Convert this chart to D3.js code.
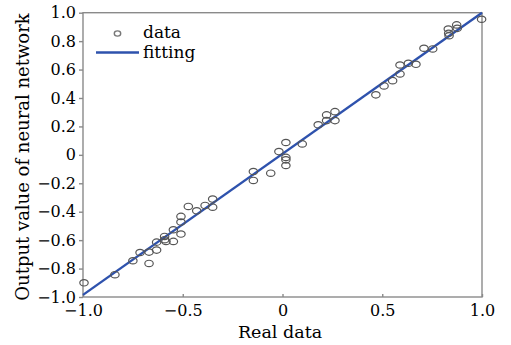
<!DOCTYPE html>
<html><head><meta charset="utf-8">
<script src="https://cdn.jsdelivr.net/npm/d3@7"></script>
<style>body{margin:0;background:#fff}svg{display:block}text{font-family:"DejaVu Serif",serif;fill:#000}</style>
</head><body>
<script>
const realX = [-0.995,-0.84,-0.75,-0.714,-0.669,-0.669,-0.631,-0.631,-0.591,-0.591,-0.584,-0.547,-0.547,-0.509,-0.509,-0.509,-0.472,-0.43,-0.388,-0.35,-0.35,
  -0.146,-0.146,-0.059,-0.018,0.017,0.017,0.017,0.017,0.099,0.179,0.221,0.221,0.263,0.263,
  0.468,0.509,0.552,0.589,0.589,0.631,0.669,0.709,0.753,0.831,0.835,0.833,0.873,0.876,0.998];
const outputY = [-0.90,-0.843,-0.745,-0.687,-0.764,-0.684,-0.67,-0.614,-0.597,-0.574,-0.609,-0.527,-0.609,-0.557,-0.473,-0.433,-0.363,-0.394,-0.356,-0.311,-0.368,
  -0.117,-0.18,-0.129,0.023,0.087,-0.018,-0.035,-0.075,0.077,0.211,0.281,0.241,0.304,0.241,
  0.422,0.485,0.522,0.569,0.632,0.644,0.637,0.75,0.745,0.885,0.838,0.855,0.914,0.89,0.954];
const fitX = [-1, 1];
const fitY = [-0.985, 1.0];
const xTicks = [-1, -0.5, 0, 0.5, 1];
const xTickLabels = ["\u22121.0", "\u22120.5", "0", "0.5", "1.0"];
const yTicks = [1, 0.8, 0.6, 0.4, 0.2, 0, -0.2, -0.4, -0.6, -0.8, -1];
const yTickLabels = ["1.0","0.8","0.6","0.4","0.2","0","\u22120.2","\u22120.4","\u22120.6","\u22120.8","\u22121.0"];
const legendLabels = ["data", "fitting"];
const xTitle = "Real data";
const yTitle = "Output value of neural network";

const W = 511, H = 345;
const L = 83, R = 482, T = 12.7, B = 297;
const svg = d3.select("body").append("svg").attr("width", W).attr("height", H);
const x = d3.scaleLinear().domain([-1, 1]).range([L, R]);
const y = d3.scaleLinear().domain([-1, 1]).range([B, T]);

const axisColor = "#8a8a8a";
svg.append("rect").attr("x", L).attr("y", T).attr("width", R - L).attr("height", B - T)
  .attr("fill", "none").attr("stroke", axisColor).attr("stroke-width", 1.4);

const xAxis = d3.axisBottom(x).tickValues(xTicks).tickSize(-3).tickPadding(5)
  .tickFormat((d, i) => xTickLabels[i]);
const gx = svg.append("g").attr("transform", `translate(0,${B})`).call(xAxis);
gx.select(".domain").remove();
gx.selectAll(".tick line").attr("stroke", axisColor).attr("stroke-width", 1.4);
gx.selectAll(".tick text").attr("font-size", 16).attr("fill", "#000").attr("dy", "0.9em")
  .attr("font-family", '"DejaVu Serif",serif');

const yAxis = d3.axisLeft(y).tickValues(yTicks).tickSize(4).tickPadding(3)
  .tickFormat((d, i) => yTickLabels[i]);
const gy = svg.append("g").attr("transform", `translate(${L},0)`).call(yAxis);
gy.select(".domain").remove();
gy.selectAll(".tick line").attr("stroke", axisColor).attr("stroke-width", 1.4);
gy.selectAll(".tick text").attr("font-size", 16).attr("fill", "#000")
  .attr("font-family", '"DejaVu Serif",serif');

const line = d3.line().x(d => x(d[0])).y(d => y(d[1]));
svg.append("path").datum(fitX.map((v, i) => [v, fitY[i]]))
  .attr("d", line).attr("fill", "none").attr("stroke", "#2e52ad").attr("stroke-width", 2.4);

svg.append("g").selectAll("ellipse").data(realX.map((v, i) => [v, outputY[i]])).join("ellipse")
  .attr("cx", d => x(d[0])).attr("cy", d => y(d[1])).attr("rx", 4.2).attr("ry", 3.2)
  .attr("fill", "none").attr("stroke", "#555").attr("stroke-width", 1.2);

svg.append("ellipse").attr("cx", 117.5).attr("cy", 33.5).attr("rx", 3.2).attr("ry", 2.6)
  .attr("fill", "none").attr("stroke", "#777").attr("stroke-width", 1.4);
svg.append("line").attr("x1", 96).attr("x2", 139).attr("y1", 52.5).attr("y2", 52.5)
  .attr("stroke", "#2e52ad").attr("stroke-width", 2.4);
svg.append("text").attr("x", 143).attr("y", 38).attr("font-size", 17).text(legendLabels[0]);
svg.append("text").attr("x", 143).attr("y", 58).attr("font-size", 17).text(legendLabels[1]);

svg.append("text").attr("x", 280).attr("y", 338).attr("text-anchor", "middle")
  .attr("font-size", 17.5).text(xTitle);
svg.append("text").attr("transform", "translate(29,157) rotate(-90)").attr("text-anchor", "middle")
  .attr("font-size", 18).text(yTitle);
</script>
</body></html>
